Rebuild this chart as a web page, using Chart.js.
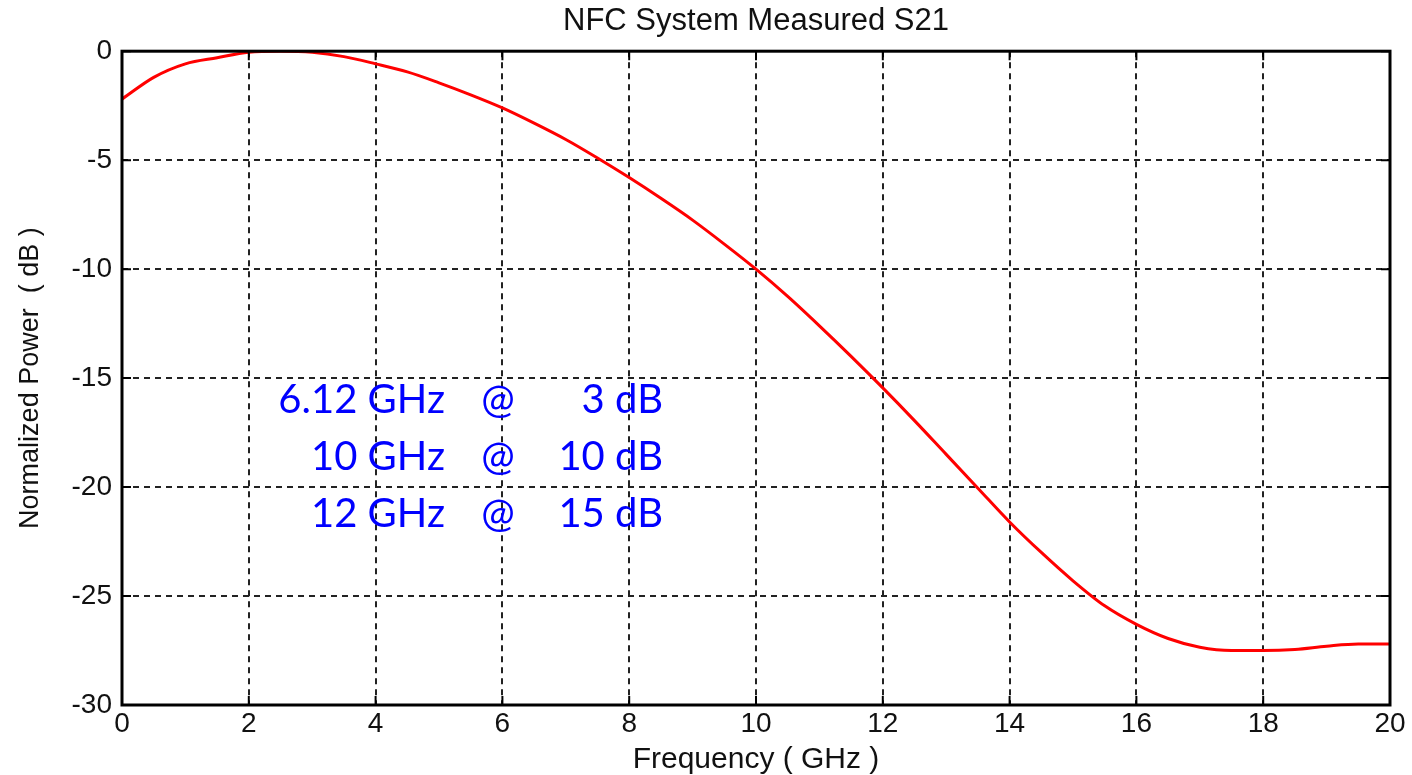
<!DOCTYPE html>
<html>
<head>
<meta charset="utf-8">
<script src="https://cdn.jsdelivr.net/npm/chart.js@4.4.0/dist/chart.umd.min.js"></script>
<style>
  html, body { margin: 0; padding: 0; background: #fff; }
  #wrap { width: 1412px; height: 775px; position: relative; }
</style>
</head>
<body>
<div id="wrap"><canvas id="s21"></canvas></div>
<script>
// measured S21 (GHz, dB)
var freqGHz = [0, 0.5, 1, 1.5, 2, 2.5, 3, 3.5, 4, 4.5, 5, 5.5, 6, 6.5, 7, 7.5, 8, 8.5, 9, 9.5,
               10, 10.5, 11, 11.5, 12, 12.5, 13, 13.5, 14, 14.5, 15, 15.5, 16, 16.5, 17, 17.5, 18, 18.5, 19, 19.5, 20];
var s21dB = [-2.2, -1.2, -0.58, -0.3, -0.05, 0, -0.05, -0.25, -0.58, -0.95, -1.45, -2.0, -2.6, -3.3, -4.05, -4.9, -5.8, -6.75, -7.75, -8.85,
             -10.0, -11.25, -12.6, -14.0, -15.45, -16.95, -18.5, -20.05, -21.6, -23.0, -24.3, -25.45, -26.3, -26.95, -27.35, -27.5, -27.5, -27.45, -27.3, -27.2, -27.2];

// annotation rows: frequency, "@", attenuation
var noteFreq = ['6.12 GHz', '10 GHz', '12 GHz'];
var noteAtt = ['3 dB', '10 dB', '15 dB'];

var axisFont = '"Liberation Sans", Arial, sans-serif';
var gridColor = '#222';

var matlabBox = {
  id: 'matlabBox',
  afterDatasetsDraw: function(chart) {
    var ctx = chart.ctx, a = chart.chartArea;
    var xs = chart.scales.x, ys = chart.scales.y;
    ctx.save();
    ctx.strokeStyle = '#000';
    ctx.lineWidth = 2;
    // inward tick marks on all four sides
    xs.ticks.forEach(function(t) {
      var px = xs.getPixelForValue(t.value);
      ctx.beginPath();
      ctx.moveTo(px, a.bottom); ctx.lineTo(px, a.bottom - 9);
      ctx.moveTo(px, a.top); ctx.lineTo(px, a.top + 9);
      ctx.stroke();
    });
    ys.ticks.forEach(function(t) {
      var py = ys.getPixelForValue(t.value);
      ctx.beginPath();
      ctx.moveTo(a.left, py); ctx.lineTo(a.left + 9, py);
      ctx.moveTo(a.right, py); ctx.lineTo(a.right - 9, py);
      ctx.stroke();
    });
    ctx.lineWidth = 3;
    ctx.strokeRect(a.left, a.top, a.right - a.left, a.bottom - a.top);

    // blue annotation text
    ctx.fillStyle = '#0000ff';
    ctx.font = '40px Lato, "Open Sans", sans-serif';
    ctx.textBaseline = 'alphabetic';
    for (var i = 0; i < noteFreq.length; i++) {
      var yb = 413 + i * 57;
      ctx.textAlign = 'right';
      ctx.fillText(noteFreq[i], 445, yb);
      ctx.textAlign = 'center';
      ctx.fillText('@', 498, yb);
      ctx.textAlign = 'right';
      ctx.fillText(noteAtt[i], 663, yb);
    }
    ctx.restore();
  }
};

new Chart(document.getElementById('s21'), {
  type: 'line',
  data: {
    datasets: [{
      data: freqGHz.map(function(f, i) { return { x: f, y: s21dB[i] }; }),
      borderColor: '#ff0000',
      borderWidth: 3,
      pointRadius: 0,
      cubicInterpolationMode: 'monotone',
      fill: false
    }]
  },
  options: {
    responsive: true,
    maintainAspectRatio: false,
    animation: false,
    layout: { padding: { left: 14, right: 22, top: 0, bottom: 0 } },
    plugins: {
      legend: { display: false },
      tooltip: { enabled: false },
      title: {
        display: true,
        fullSize: false,
        text: 'NFC System Measured S21',
        color: '#111',
        font: { family: axisFont, size: 31, weight: 'normal' },
        padding: { top: 3, bottom: 11 }
      }
    },
    scales: {
      x: {
        type: 'linear',
        min: 0, max: 20,
        afterFit: function(s) { s.height = 70; s.paddingRight = 0; s.paddingLeft = 0; },
        ticks: { stepSize: 2, color: '#111', font: { family: axisFont, size: 28 }, padding: 2, maxRotation: 0 },
        grid: { color: gridColor, lineWidth: 2, drawTicks: false },
        border: { display: false, dash: [6, 5] },
        title: { display: true, text: 'Frequency ( GHz )', color: '#111', font: { family: axisFont, size: 30 }, padding: { top: 0, bottom: -3 } }
      },
      y: {
        min: -30, max: 0,
        afterFit: function(s) { s.width = 108; },
        ticks: { stepSize: 5, color: '#111', font: { family: axisFont, size: 28 }, padding: 10 },
        grid: { color: gridColor, lineWidth: 2, drawTicks: false },
        border: { display: false, dash: [6, 5] },
        title: { display: true, text: 'Normalized Power  ( dB )', color: '#111', font: { family: axisFont, size: 27 }, padding: { top: 0, bottom: 0 } }
      }
    }
  },
  plugins: [matlabBox]
});
</script>
</body>
</html>
